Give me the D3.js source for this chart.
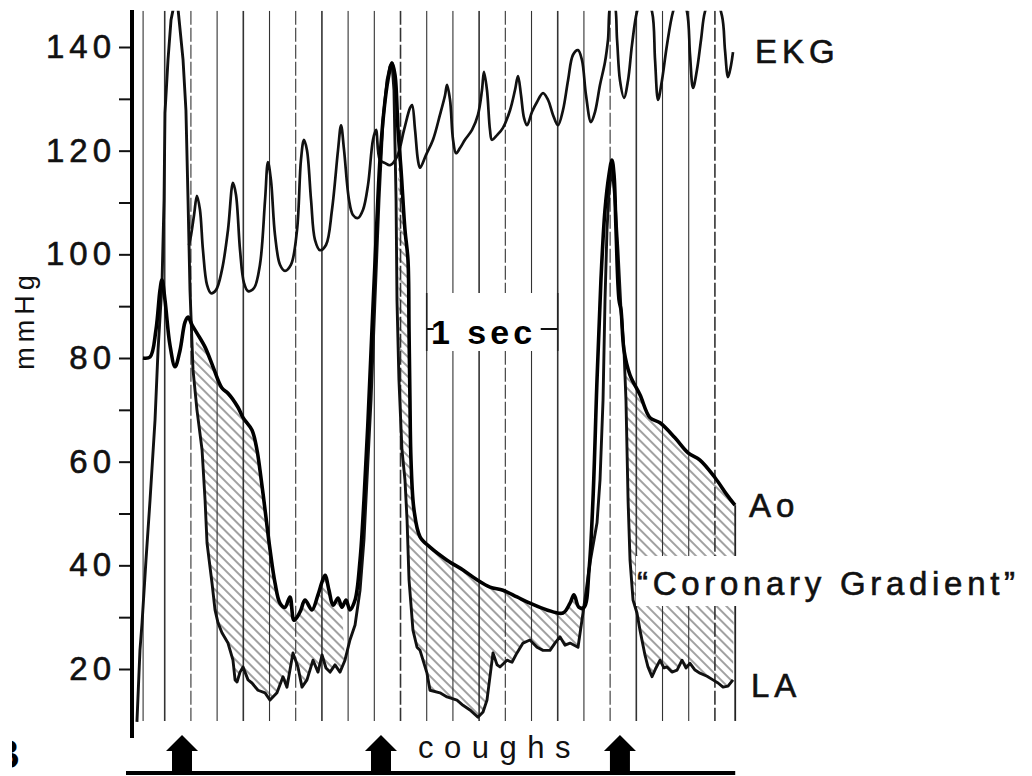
<!DOCTYPE html>
<html>
<head>
<meta charset="utf-8">
<script src="https://cdn.jsdelivr.net/npm/d3@7"></script>
<style>
  body { margin: 0; background: #fff; }
  svg { display: block; font-family: "Liberation Sans", Arial, Helvetica, sans-serif; }
</style>
</head>
<body>
<div id="chart"></div>
<script>
const width = 1032,
  height = 776;

const ekg = [
  [0.45, 101.8], [0.466, 103.7], [0.489, 107.6], [0.511, 111.3], [0.534, 108.6], [0.557, 100.8],
  [0.588, 94.1], [0.618, 92.5], [0.656, 93.1], [0.702, 97.0], [0.748, 104.7], [0.786, 113.8],
  [0.809, 111.5], [0.84, 100.8], [0.87, 94.5], [0.901, 92.9], [0.947, 93.5], [0.992, 98.0],
  [1.031, 110.5], [1.053, 117.8], [1.076, 114.3], [1.107, 103.7], [1.145, 98.0], [1.183, 96.8],
  [1.229, 98.0], [1.275, 104.7], [1.305, 118.2], [1.328, 122.1], [1.351, 120.1], [1.382, 110.5],
  [1.412, 102.8], [1.45, 100.8], [1.496, 101.8], [1.542, 108.6], [1.588, 120.1], [1.611, 124.9],
  [1.634, 120.1], [1.672, 110.5], [1.702, 107.6], [1.74, 107.0], [1.779, 108.6], [1.817, 113.4],
  [1.855, 122.1], [1.878, 124.0], [1.908, 118.2], [1.947, 117.6], [1.985, 117.2], [2.038, 118.8],
  [2.092, 124.0], [2.137, 128.2], [2.153, 128.8], [2.176, 124.0], [2.198, 118.2], [2.214, 116.7],
  [2.26, 119.2], [2.313, 122.1], [2.366, 126.9], [2.405, 130.7], [2.42, 132.7], [2.443, 129.8],
  [2.466, 122.1], [2.489, 119.5], [2.519, 120.5], [2.557, 122.1], [2.611, 124.0], [2.656, 126.9],
  [2.687, 131.7], [2.702, 135.2], [2.725, 131.7], [2.748, 124.0], [2.763, 122.1], [2.802, 123.0],
  [2.847, 124.4], [2.901, 127.8], [2.939, 131.7], [2.962, 134.4], [2.985, 130.7], [3.008, 126.3],
  [3.031, 124.9], [3.069, 127.5], [3.107, 129.4], [3.153, 131.1], [3.191, 129.8], [3.229, 126.9],
  [3.267, 124.9], [3.305, 127.8], [3.344, 133.6], [3.382, 138.5], [3.42, 139.4], [3.45, 137.5],
  [3.481, 130.7], [3.519, 125.5], [3.55, 127.5], [3.588, 132.7], [3.626, 137.1], [3.649, 141.4],
  [3.672, 148.5], [3.695, 148.5], [3.718, 141.4], [3.74, 133.6], [3.771, 130.2], [3.802, 133.6],
  [3.832, 140.4], [3.87, 146.8], [3.924, 150.5], [3.985, 146.8], [4.008, 137.5], [4.031, 129.8],
  [4.061, 133.6], [4.099, 140.4], [4.145, 146.8], [4.198, 150.5], [4.252, 146.8], [4.275, 138.5],
  [4.298, 132.1], [4.328, 135.6], [4.359, 141.4], [4.389, 146.8], [4.45, 150.5], [4.519, 146.0],
  [4.542, 139.4], [4.565, 134.2], [4.588, 136.5], [4.603, 139.0]
];

const aortic = [
  [0.099, 80.0], [0.153, 80.2], [0.198, 85.4], [0.229, 93.1], [0.244, 95.1], [0.267, 91.2],
  [0.305, 82.5], [0.344, 78.3], [0.382, 81.5], [0.42, 86.9], [0.443, 87.9], [0.473, 86.4],
  [0.511, 84.8], [0.573, 82.1], [0.634, 78.3], [0.702, 74.2], [0.748, 73.2], [0.824, 70.5],
  [0.863, 68.5], [0.931, 66.1], [0.969, 62.3], [0.992, 58.4], [1.031, 50.7], [1.069, 43.0],
  [1.107, 36.6], [1.145, 32.7], [1.183, 31.9], [1.221, 33.9], [1.252, 29.4], [1.298, 31.0],
  [1.336, 33.3], [1.389, 31.4], [1.435, 34.3], [1.466, 36.8], [1.489, 38.1], [1.519, 35.2],
  [1.55, 32.3], [1.588, 33.7], [1.618, 31.9], [1.649, 33.3], [1.679, 31.4], [1.718, 33.3],
  [1.756, 41.0], [1.786, 52.6], [1.817, 68.0], [1.847, 85.4], [1.878, 102.8], [1.908, 118.2],
  [1.939, 127.8], [1.969, 133.6], [2.0, 136.9], [2.023, 134.6], [2.046, 124.0], [2.069, 116.3],
  [2.099, 104.7], [2.122, 98.9], [2.13, 85.4], [2.137, 71.9], [2.145, 60.3], [2.168, 50.7],
  [2.214, 45.5], [2.29, 43.5], [2.42, 41.0], [2.542, 39.1], [2.649, 37.2], [2.748, 35.8],
  [2.847, 35.2], [2.954, 33.9], [3.053, 32.7], [3.183, 31.4], [3.305, 30.8], [3.359, 32.7],
  [3.389, 34.3], [3.427, 31.9], [3.466, 31.9], [3.504, 39.1], [3.534, 52.6], [3.565, 75.8],
  [3.595, 95.1], [3.626, 108.6], [3.656, 115.3], [3.679, 118.2], [3.695, 115.3], [3.71, 104.7],
  [3.733, 91.2], [3.748, 89.3], [3.771, 81.5], [3.817, 76.7], [3.893, 72.9], [3.969, 68.5],
  [4.046, 67.5], [4.16, 64.6], [4.26, 61.7], [4.351, 60.3], [4.466, 56.9], [4.557, 53.6],
  [4.618, 51.6]
];

const leftAtrial = [
  [0.053, 9.8], [0.076, 23.6], [0.092, 28.9], [0.122, 41.0], [0.153, 52.6], [0.191, 68.0],
  [0.214, 81.5], [0.244, 94.1], [0.26, 110.5], [0.267, 127.3], [0.29, 137.5], [0.313, 145.2],
  [0.336, 148.1], [0.366, 147.5], [0.405, 137.5], [0.427, 127.8], [0.443, 110.5], [0.458, 93.1],
  [0.481, 77.7], [0.511, 70.0], [0.55, 62.3], [0.573, 52.6], [0.588, 44.3], [0.626, 36.6],
  [0.649, 31.4], [0.672, 28.9], [0.702, 27.0], [0.748, 25.0], [0.786, 21.7], [0.802, 17.9],
  [0.817, 17.5], [0.84, 19.4], [0.863, 20.4], [0.901, 17.9], [0.931, 17.3], [0.977, 15.9],
  [1.031, 15.4], [1.069, 14.0], [1.122, 15.4], [1.168, 18.5], [1.198, 16.5], [1.244, 23.1],
  [1.282, 20.4], [1.313, 16.5], [1.351, 17.9], [1.397, 21.7], [1.435, 19.4], [1.466, 22.7],
  [1.496, 20.2], [1.527, 19.4], [1.565, 20.8], [1.603, 19.4], [1.641, 21.7], [1.679, 25.6],
  [1.718, 28.5], [1.756, 35.2], [1.786, 44.9], [1.809, 56.5], [1.84, 71.9], [1.87, 91.2],
  [1.901, 110.5], [1.931, 125.9], [1.962, 133.6], [1.985, 136.3], [2.0, 136.9], [2.015, 131.7],
  [2.031, 110.5], [2.038, 91.2], [2.053, 75.8], [2.076, 62.3], [2.099, 56.5], [2.115, 48.7],
  [2.13, 37.2], [2.16, 27.5], [2.191, 24.2], [2.214, 23.6], [2.267, 19.2], [2.29, 15.9],
  [2.366, 15.4], [2.42, 14.6], [2.496, 14.0], [2.542, 13.0], [2.595, 12.1], [2.656, 10.7],
  [2.695, 11.7], [2.725, 14.0], [2.771, 23.1], [2.802, 20.8], [2.824, 20.4], [2.878, 21.7],
  [2.916, 21.3], [2.954, 23.1], [3.0, 25.0], [3.053, 25.6], [3.107, 24.2], [3.153, 23.6],
  [3.206, 23.6], [3.244, 25.0], [3.282, 26.2], [3.321, 24.6], [3.359, 25.0], [3.42, 24.2],
  [3.458, 30.8], [3.511, 40.4], [3.565, 48.2], [3.588, 56.5], [3.611, 71.9], [3.626, 91.2],
  [3.641, 104.7], [3.656, 111.5], [3.679, 117.2], [3.702, 110.5], [3.725, 100.8], [3.748, 89.3],
  [3.771, 81.5], [3.786, 71.9], [3.794, 62.3], [3.802, 52.6], [3.817, 41.0], [3.84, 33.3],
  [3.87, 30.8], [3.893, 27.5], [3.931, 22.7], [3.954, 20.4], [3.985, 18.5], [4.015, 20.2],
  [4.046, 21.7], [4.076, 20.2], [4.099, 20.4], [4.137, 19.4], [4.176, 19.8], [4.214, 21.7],
  [4.244, 20.2], [4.275, 21.1], [4.313, 19.8], [4.351, 19.2], [4.405, 18.6], [4.45, 17.9],
  [4.489, 17.3], [4.527, 16.5], [4.565, 16.7], [4.603, 17.9]
];

// paper timing marks, 0.2 s apart, plus the two edge lines
const timeMarks = [0.1, 0.265, 0.465, 0.665, 0.865, 1.065, 1.265, 1.465, 1.665, 1.865, 2.065,
  2.265, 2.465, 2.665, 2.865, 3.065, 3.265, 3.465, 3.665, 3.865, 4.065, 4.265, 4.465];
const endMark = 4.62;
const coughTimes = [0.397, 1.916, 3.74];
const gradientSpans = [[0.48, 1.645], [2.046, 3.466], [3.771, 4.62]];
const yTicks = [20, 30, 40, 50, 60, 70, 80, 90, 100, 110, 120, 130, 140];
const secondStart = 2.265, secondEnd = 3.265;

const x = d3.scaleLinear().domain([0, 4.65]).range([130, 130 + 4.65 * 131]);
const y = d3.scaleLinear().domain([20, 140]).range([669, 47]);
const yTop = 147, yBottom = 9.4;

const svg = d3
  .select("#chart")
  .append("svg")
  .attr("width", width)
  .attr("height", height);

svg.append("rect").attr("width", width).attr("height", height).attr("fill", "#fff");

const defs = svg.append("defs");
const hatch = defs
  .append("pattern")
  .attr("id", "hatch")
  .attr("patternUnits", "userSpaceOnUse")
  .attr("width", 7)
  .attr("height", 7)
  .attr("patternTransform", "rotate(-45)");
hatch.append("line")
  .attr("x1", 1).attr("y1", 0).attr("x2", 1).attr("y2", 7)
  .attr("stroke", "#444").attr("stroke-width", 1);

defs.append("clipPath").attr("id", "plot-clip")
  .append("rect")
  .attr("x", 133).attr("y", y(yTop))
  .attr("width", 610).attr("height", y(yBottom) - y(yTop) + 4);

defs.append("clipPath").attr("id", "b-clip")
  .append("rect").attr("x", 12).attr("y", 720).attr("width", 20).attr("height", 60);

const plot = svg.append("g").attr("clip-path", "url(#plot-clip)");

// hatched "coronary gradient" between aortic and left atrial pressure
const bandLine = d3.line().x(d => x(d[0])).y(d => y(d[1]));
gradientSpans.forEach(([t0, t1]) => {
  const top = aortic.filter(d => d[0] >= t0 && d[0] <= t1);
  const bottom = leftAtrial.filter(d => d[0] >= t0 && d[0] <= t1).reverse();
  plot.append("path")
    .attr("d", bandLine(top.concat(bottom)) + "Z")
    .attr("fill", "url(#hatch)");
});

// timing lines
plot.selectAll(".time-mark")
  .data(timeMarks)
  .enter()
  .append("line")
  .attr("class", "time-mark")
  .attr("x1", d => x(d)).attr("x2", d => x(d))
  .attr("y1", y(yTop)).attr("y2", y(yBottom) - 3)
  .attr("stroke", "#333")
  .attr("stroke-width", (d, i) => (i % 3 === 1 ? 1.6 : 1.1))
  .attr("stroke-dasharray", (d, i) => (i % 4 === 2 ? "14,3" : null));

plot.append("line")
  .attr("x1", x(endMark)).attr("x2", x(endMark))
  .attr("y1", y(aortic[aortic.length - 1][1])).attr("y2", y(yBottom) - 3)
  .attr("stroke", "#222").attr("stroke-width", 1.8);

// label boxes knock out the hatching and timing lines
svg.append("rect")
  .attr("x", x(secondStart) + 1).attr("y", 293)
  .attr("width", x(secondEnd) - x(secondStart) - 2).attr("height", 58)
  .attr("fill", "#fff");
svg.append("rect")
  .attr("x", 636).attr("y", 556).attr("width", 390).attr("height", 50)
  .attr("fill", "#fff");

// traces
const smooth = d3.line().x(d => x(d[0])).y(d => y(d[1])).curve(d3.curveCatmullRom.alpha(0.5));
const jagged = d3.line().x(d => x(d[0])).y(d => y(d[1]));

plot.append("path").attr("d", smooth(ekg))
  .attr("fill", "none").attr("stroke", "#111").attr("stroke-width", 2.7)
  .attr("stroke-linejoin", "round");
plot.append("path").attr("d", jagged(leftAtrial))
  .attr("fill", "none").attr("stroke", "#111").attr("stroke-width", 2.9)
  .attr("stroke-linejoin", "round");
plot.append("path").attr("d", smooth(aortic))
  .attr("fill", "none").attr("stroke", "#000").attr("stroke-width", 3.6)
  .attr("stroke-linejoin", "round");

// pressure axis
const yAxis = d3.axisLeft(y)
  .tickValues(yTicks)
  .tickSize(12)
  .tickPadding(3)
  .tickFormat(d => (d % 20 === 0 ? d : ""));
const gy = svg.append("g").attr("transform", "translate(131,0)").call(yAxis);
gy.attr("font-family", null).attr("font-size", null).attr("text-anchor", "start");
gy.select(".domain").remove();
gy.selectAll(".tick line").attr("stroke", "#111").attr("stroke-width", 2);
gy.selectAll(".tick text")
  .attr("fill", "#111")
  .attr("stroke", "#111")
  .attr("stroke-width", 0.6)
  .style("font-size", "33px")
  .style("letter-spacing", "5px")
  .each(function () {
    // right edge of each label sits just left of the tick
    const w = this.getBBox().width;
    d3.select(this).attr("x", -15 - w);
  });

svg.append("line")
  .attr("x1", 132).attr("x2", 132)
  .attr("y1", 10).attr("y2", 738)
  .attr("stroke", "#000").attr("stroke-width", 4);

svg.append("text")
  .attr("transform", "translate(34,320) rotate(-90)")
  .attr("text-anchor", "middle")
  .style("font-size", "27px")
  .style("letter-spacing", "5px")
  .attr("fill", "#111")
  .text("mmHg");

// one-second bracket
[secondStart, secondEnd].forEach(t => {
  svg.append("line")
    .attr("x1", x(t)).attr("x2", x(t)).attr("y1", 293).attr("y2", 351)
    .attr("stroke", "#222").attr("stroke-width", 1.6);
});
svg.append("line").attr("x1", x(secondStart)).attr("x2", x(secondStart) + 7)
  .attr("y1", 329).attr("y2", 329).attr("stroke", "#111").attr("stroke-width", 2);
svg.append("line").attr("x1", x(secondEnd) - 17).attr("x2", x(secondEnd))
  .attr("y1", 329).attr("y2", 329).attr("stroke", "#111").attr("stroke-width", 2);
svg.append("text")
  .attr("x", 431).attr("y", 344)
  .style("font-size", "34px").style("font-weight", "bold").style("letter-spacing", "4px")
  .attr("fill", "#000")
  .text("1 sec");

// trace labels
const labels = [
  { text: "EKG", x: 755, y: 63, size: 33 },
  { text: "Ao", x: 749, y: 517, size: 33 },
  { text: "LA", x: 751, y: 697, size: 33 },
  { text: "\u201CCoronary Gradient\u201D", x: 637, y: 595, size: 33 }
];
svg.selectAll(".trace-label")
  .data(labels)
  .enter()
  .append("text")
  .attr("class", "trace-label")
  .attr("x", d => d.x).attr("y", d => d.y)
  .style("font-size", d => d.size + "px")
  .style("letter-spacing", d => (d.text.length > 5 ? "4.7px" : "5px"))
  .attr("fill", "#111")
  .attr("stroke", "#111")
  .attr("stroke-width", 0.6)
  .text(d => d.text);

// cough markers on the event line
svg.append("line")
  .attr("x1", 126).attr("x2", x(endMark))
  .attr("y1", 773).attr("y2", 773)
  .attr("stroke", "#000").attr("stroke-width", 4);

const arrow = d3.line();
svg.selectAll(".cough")
  .data(coughTimes)
  .enter()
  .append("path")
  .attr("class", "cough")
  .attr("d", d => {
    const cx = x(d);
    return arrow([
      [cx, 735], [cx + 16, 751], [cx + 10, 751], [cx + 10, 772],
      [cx - 10, 772], [cx - 10, 751], [cx - 16, 751]
    ]) + "Z";
  })
  .attr("fill", "#000");

svg.append("text")
  .attr("x", 418).attr("y", 758)
  .style("font-size", "31px")
  .style("letter-spacing", "10.5px")
  .attr("fill", "#111")
  .text("coughs");

// panel letter, cut at the left edge as in the scan
svg.append("text")
  .attr("clip-path", "url(#b-clip)")
  .attr("x", -9).attr("y", 768)
  .style("font-size", "40px").style("font-weight", "bold")
  .attr("fill", "#000")
  .text("B");
</script>
</body>
</html>
